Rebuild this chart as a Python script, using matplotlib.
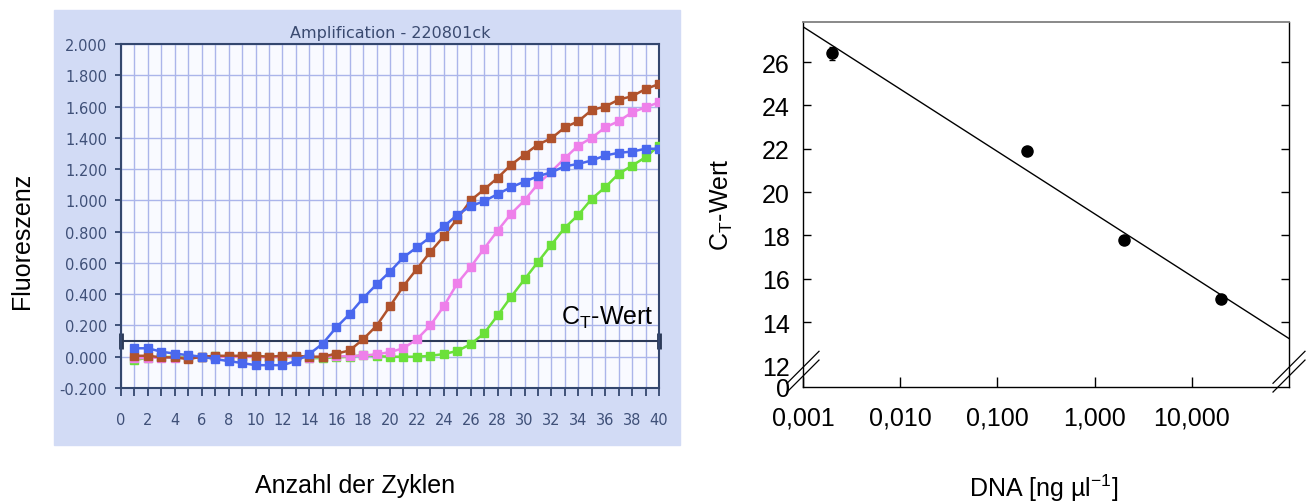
import numpy as np
import matplotlib.pyplot as plt
from matplotlib.patches import Rectangle
from matplotlib.ticker import FixedLocator, FixedFormatter, NullLocator, MultipleLocator

plt.rcParams['mathtext.fontset'] = 'custom'
plt.rcParams['mathtext.rm'] = 'Liberation Sans'
plt.rcParams['mathtext.it'] = 'Liberation Sans:italic'

# --- left: amplification curves ---
cycles = np.arange(1, 41)
blue = [0.054, 0.054, 0.032, 0.02, 0.01, 0.0, -0.015, -0.028, -0.04, -0.054,
        -0.054, -0.054, -0.028, 0.017, 0.084, 0.187, 0.273, 0.374, 0.462, 0.544,
        0.636, 0.70, 0.765, 0.833, 0.907, 0.963, 0.995, 1.04, 1.084, 1.12,
        1.154, 1.18, 1.218, 1.233, 1.255, 1.287, 1.304, 1.312, 1.33, 1.33]
brown = [0.006, 0.006, -0.004, -0.004, -0.015, 0.0, 0.006, 0.006, 0.006, 0.006,
         0.0, 0.006, 0.006, 0.0, 0.0, 0.02, 0.04, 0.112, 0.198, 0.323,
         0.452, 0.562, 0.67, 0.77, 0.882, 1.0, 1.07, 1.144, 1.227, 1.293,
         1.357, 1.397, 1.467, 1.506, 1.578, 1.6, 1.644, 1.666, 1.712, 1.744]
pink = [-0.01, -0.008, -0.005, -0.005, -0.01, -0.003, 0.0, 0.0, 0.0, 0.0,
        -0.003, 0.0, 0.0, -0.005, 0.0, 0.002, 0.003, 0.008, 0.015, 0.03,
        0.054, 0.112, 0.2, 0.323, 0.469, 0.574, 0.692, 0.806, 0.914, 1.0,
        1.105, 1.184, 1.27, 1.35, 1.4, 1.467, 1.506, 1.563, 1.595, 1.627]
green = [-0.022, -0.006, -0.003, 0.0, -0.005, -0.002, 0.006, 0.0, 0.0, 0.0,
         0.0, -0.002, 0.0, -0.01, -0.008, -0.004, 0.0, 0.01, 0.004, 0.0,
         0.0, 0.0, 0.006, 0.017, 0.037, 0.08, 0.15, 0.264, 0.383, 0.495,
         0.606, 0.716, 0.825, 0.907, 1.01, 1.084, 1.17, 1.222, 1.276, 1.35]
threshold = 0.1

# --- right: standard curve ---
dna = [0.002, 0.2, 2, 20]
ct = [26.4, 21.9, 17.8, 15.05]
ct_err = [0.3, 0.1, 0.1, 0.1]
dna_ticks = [0.001, 0.01, 0.1, 1, 10]
dna_labels = ['0,001', '0,010', '0,100', '1,000', '10,000']
ct_ticks = [14, 16, 18, 20, 22, 24, 26]
ct_break_ticks = [0, 12]

fig = plt.figure(figsize=(13.09, 5.02), dpi=100)
W, H = 1309, 502
FS = 18

# screenshot panel behind the left chart
fig.patches.append(Rectangle((54 / W, 1 - 446 / H), 626 / W, 435 / H,
                             transform=fig.transFigure, color='#D2DBF5', zorder=-5))

ax1 = fig.add_axes([121 / W, 1 - 389 / H, 538 / W, 344 / H])
ax1.set_facecolor('#F9FAFF')
navy = '#34476E'
txt = '#3F5078'
ax1.plot(cycles, green, '-s', color='#6BE03A', lw=1.8, ms=6, zorder=3)
ax1.plot(cycles, pink, '-s', color='#EE80EA', lw=1.8, ms=6, zorder=3)
ax1.plot(cycles, brown, '-s', color='#B0522C', lw=1.8, ms=6, zorder=3)
ax1.plot(cycles, blue, '-s', color='#4A68EE', lw=1.8, ms=6, zorder=3)
ax1.plot([0, 40], [threshold, threshold], color='#2C3A58', lw=1.5, zorder=2.5,
         marker='|', ms=11, mew=3.5, clip_on=False)
ax1.text(39.63, 0.21, 'C$_\\mathrm{T}$-Wert', ha='right', va='baseline',
         fontsize=FS, family='Liberation Sans', color='black', zorder=5)

ax1.set_xlim(0, 40)
ax1.set_ylim(-0.2, 2.0)
ax1.xaxis.set_major_locator(MultipleLocator(2))
ax1.xaxis.set_minor_locator(MultipleLocator(1))
ax1.yaxis.set_major_locator(MultipleLocator(0.2))
ax1.yaxis.set_major_formatter(plt.FuncFormatter(lambda v, p: f'{v:.3f}'))
ax1.grid(True, which='both', axis='x', color='#ABB5EA', lw=1)
ax1.grid(True, which='major', axis='y', color='#ABB5EA', lw=1)
ax1.set_axisbelow(True)
ax1.tick_params(axis='x', which='both', direction='out', length=6, width=1.3,
                color=navy, labelsize=10.5, labelcolor=txt, pad=11)
ax1.tick_params(axis='y', direction='out', length=4, width=1.3, color=navy,
                labelsize=10.5, labelcolor=txt, pad=6)
for s in ax1.spines.values():
    s.set_color(navy)
    s.set_linewidth(1.5)
ax1.set_title('Amplification - 220801ck', fontsize=11.5, color='#3A4A70', pad=5)

fig.text(22 / W, 1 - 241 / H, 'Fluoreszenz', rotation=90, ha='center', va='center',
         fontsize=FS, family='Liberation Sans')
fig.text(355 / W, 1 - 486 / H, 'Anzahl der Zyklen', ha='center', va='center',
         fontsize=FS, family='Liberation Sans')

# right chart with broken y-axis (0..12 compressed)
def fwd(y):
    y = np.asarray(y, dtype=float)
    return np.where(y < 12, 11 + y / 12, y)

def inv(v):
    v = np.asarray(v, dtype=float)
    return np.where(v < 12, (v - 11) * 12, v)

ax2 = fig.add_axes([803 / W, 1 - 388 / H, 486 / W, 365 / H])
ax2.set_xscale('log')
ax2.set_yscale('function', functions=(fwd, inv))
ax2.set_xlim(0.001, 100)
ax2.set_ylim(0, 27.85)

coef = np.polyfit(np.log10(dna), ct, 1)
xl = np.logspace(-3, 2, 50)
ax2.plot(xl, np.polyval(coef, np.log10(xl)), color='black', lw=1)
ax2.errorbar(dna, ct, yerr=ct_err, fmt='o', color='black', ms=8, capsize=2,
             elinewidth=1, zorder=3)

ax2.xaxis.set_major_locator(FixedLocator(dna_ticks))
ax2.xaxis.set_major_formatter(FixedFormatter(dna_labels))
ax2.xaxis.set_minor_locator(NullLocator())
ax2.yaxis.set_major_locator(FixedLocator(ct_ticks))
ax2.yaxis.set_major_formatter(FixedFormatter([str(t) for t in ct_ticks]))
ax2.yaxis.set_minor_locator(FixedLocator(ct_break_ticks))
ax2.yaxis.set_minor_formatter(FixedFormatter([str(t) for t in ct_break_ticks]))
ax2.tick_params(axis='x', direction='in', length=7, width=1, labelsize=FS, pad=13)
ax2.tick_params(axis='y', which='major', direction='in', length=6, width=1,
                labelsize=FS, pad=9.5, right=True)
ax2.tick_params(axis='y', which='minor', length=0, labelsize=FS, pad=9.5)
for lab in ax2.get_xticklabels() + ax2.get_yticklabels() + ax2.get_yticklabels(minor=True):
    lab.set_family('Liberation Sans')
for s in ('left', 'bottom', 'right'):
    ax2.spines[s].set_linewidth(1)
ax2.spines['top'].set_color('#808080')
ax2.spines['top'].set_linewidth(1.3)

# break marks
dx, dy = 16 / 486, 16 / 365
for xc in (0, 1):
    for yc in (0.054, 0.030):
        ax2.plot([xc - dx, xc + dx], [yc - dy, yc + dy], color='black', lw=0.9,
                 transform=ax2.transAxes, clip_on=False)

fig.text(722 / W, 1 - 205 / H, 'C$_\\mathrm{T}$-Wert', rotation=90, ha='center',
         va='center', fontsize=FS, family='Liberation Sans')
fig.text(1044 / W, 1 - 488 / H, 'DNA [ng µl$^{-1}$]', ha='center', va='center',
         fontsize=FS, family='Liberation Sans')

fig.savefig('out.png', dpi=100)
